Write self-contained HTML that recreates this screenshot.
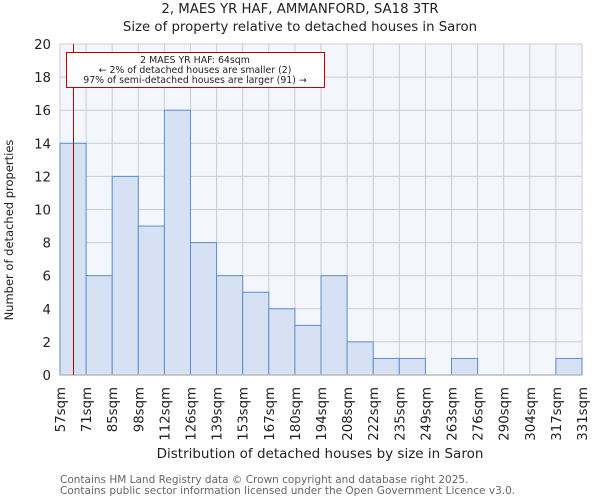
<!DOCTYPE html>
<html><head><meta charset="utf-8"><style>
body{margin:0;background:#fff;font-family:"DejaVu Sans","Liberation Sans",sans-serif;}
</style></head><body>
<svg width="600" height="500" xmlns="http://www.w3.org/2000/svg" font-family="DejaVu Sans, Liberation Sans, sans-serif">
<text x="300" y="13" text-anchor="middle" font-size="13.3" fill="#222">2, MAES YR HAF, AMMANFORD, SA18 3TR</text>
<text x="300" y="31" text-anchor="middle" font-size="13.3" fill="#222">Size of property relative to detached houses in Saron</text>
<rect x="60" y="44" width="522" height="331" fill="#f3f6fd"/>
<g id="grid"></g>
<g id="bars"></g>
<g id="axes"></g>
<line x1="73.5" y1="44" x2="73.5" y2="375" stroke="#c00000" stroke-width="1"/>
<rect x="66.5" y="52.5" width="258" height="35" fill="#fff" stroke="#c00000" stroke-width="1"/>
<text x="195" y="63" text-anchor="middle" font-size="9.4" fill="#222">2 MAES YR HAF: 64sqm</text>
<text x="195" y="73" text-anchor="middle" font-size="9.4" fill="#222">← 2% of detached houses are smaller (2)</text>
<text x="195" y="83" text-anchor="middle" font-size="9.4" fill="#222">97% of semi-detached houses are larger (91) →</text>
<text x="320" y="458" text-anchor="middle" font-size="13.5" fill="#222">Distribution of detached houses by size in Saron</text>
<text transform="translate(13,230) rotate(-90)" text-anchor="middle" font-size="11.5" fill="#222">Number of detached properties</text>
<text x="60" y="483" font-size="10.5" fill="#666">Contains HM Land Registry data © Crown copyright and database right 2025.</text>
<text x="60" y="494" font-size="10.5" fill="#666">Contains public sector information licensed under the Open Government Licence v3.0.</text>
</svg>
<script>
const binLabels=["57sqm","71sqm","85sqm","98sqm","112sqm","126sqm","139sqm","153sqm","167sqm","180sqm","194sqm","208sqm","222sqm","235sqm","249sqm","263sqm","276sqm","290sqm","304sqm","317sqm","331sqm"];
const counts=[14,6,12,9,16,8,6,5,4,3,6,2,1,1,0,1,0,0,0,1];
const yTicks=[0,2,4,6,8,10,12,14,16,18,20];
const X0=60,X1=582,Y0=375,Y1=44,YMAX=20;
const ns="http://www.w3.org/2000/svg";
const nb=counts.length;
function xs(i){return X0+(X1-X0)*i/nb;}
function ys(v){return Y0-(Y0-Y1)*v/YMAX;}
function mk(t,a,p){const e=document.createElementNS(ns,t);for(const k in a)e.setAttribute(k,a[k]);p.appendChild(e);return e;}
const grid=document.getElementById('grid'),bars=document.getElementById('bars'),axes=document.getElementById('axes');
yTicks.forEach(v=>{
 const l=mk('line',{x1:X0,x2:X1,y1:ys(v),y2:ys(v),stroke:'#cccccc','stroke-width':1},grid);
 
 
 const t=mk('text',{x:X0-9,y:ys(v)+5,'text-anchor':'end','font-size':13.3,fill:'#222'},axes);
 t.textContent=v;
 
 
});
binLabels.forEach((s,i)=>{
 const l=mk('line',{x1:xs(i),x2:xs(i),y1:Y1,y2:Y0,stroke:'#cccccc','stroke-width':1},grid);
 
 
 const t=mk('text',{transform:`translate(${xs(i)+5},${Y0+12}) rotate(-90)`,'text-anchor':'end','font-size':13.3,fill:'#222'},axes);
 t.textContent=s;
 
 
});
counts.forEach((c,i)=>{
 if(c<=0)return;
 const r=mk('rect',{x:xs(i),y:ys(c),width:xs(i+1)-xs(i),height:Y0-ys(c),fill:'#d6e1f3',stroke:'#5a8ed6','stroke-width':1},bars);
 
 
});
const ax=mk('line',{x1:X0,x2:X1,y1:Y0,y2:Y0,stroke:'#bbbbbb','stroke-width':1.5},axes);


</script>
</body></html>
